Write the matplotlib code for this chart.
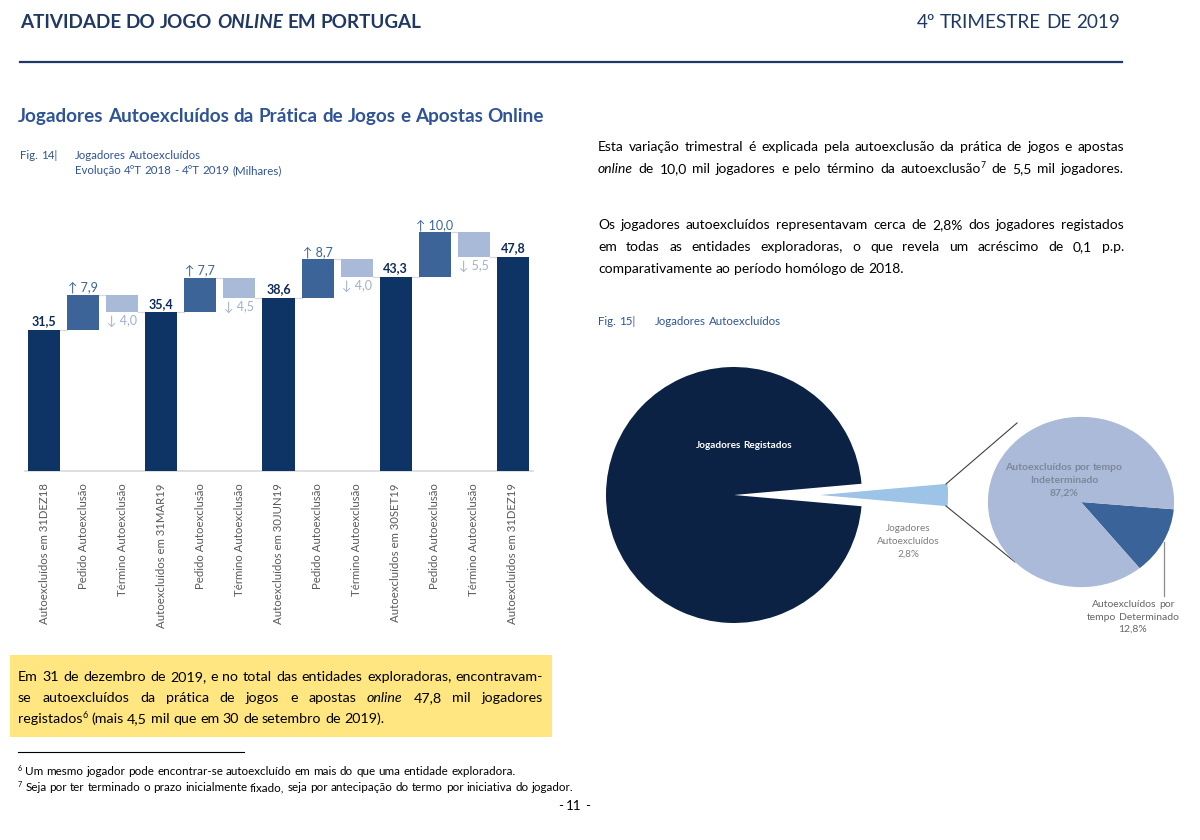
import re
import matplotlib
matplotlib.use('Agg')
import matplotlib.pyplot as plt
from matplotlib.patches import Rectangle
from matplotlib.lines import Line2D

plt.rcParams['font.family'] = ['Lato', 'DejaVu Sans']

# dados do gráfico em cascata (milhares)
categorias = ['Autoexcluídos em 31DEZ18', 'Pedido Autoexclusão', 'Término Autoexclusão',
              'Autoexcluídos em 31MAR19', 'Pedido Autoexclusão', 'Término Autoexclusão',
              'Autoexcluídos em 30JUN19', 'Pedido Autoexclusão', 'Término Autoexclusão',
              'Autoexcluídos em 30SET19', 'Pedido Autoexclusão', 'Término Autoexclusão',
              'Autoexcluídos em 31DEZ19']
valores = [31.5, 7.9, -4.0, 35.4, 7.7, -4.5, 38.6, 8.7, -4.0, 43.3, 10.0, -5.5, 47.8]
tipos = ['total', 'pedido', 'termino'] * 4 + ['total']

# dados dos gráficos circulares (%)
pie_labels = ['Jogadores Autoexcluídos', 'Jogadores Registados']
pie_valores = [2.8, 97.2]
detalhe_labels = ['Autoexcluídos por tempo Determinado', 'Autoexcluídos por tempo Indeterminado']
detalhe_valores = [12.8, 87.2]

AZUL_ESC = '#1f3864'
AZUL_MED = '#2f5496'
COR_TOTAL = '#0e3466'
COR_PEDIDO = '#3c6499'
COR_TERMINO = '#a9b9d8'

W, H = 1200, 840
fig = plt.figure(figsize=(12, 8.4), dpi=100)
rend = fig.canvas.get_renderer()


def px(x, y):
    return x / W, 1 - y / H


def medir(t):
    return t.get_window_extent(renderer=rend).width


def escreve(x0, y, texto, size, color='black', weight='normal', x1=None, ha='left'):
    """Escreve uma linha; *x* = itálico, ^n = expoente; com x1 a linha fica justificada."""
    grupos = []
    for palavra in texto.split(' '):
        partes = []
        for pedaco in re.findall(r'\*[^*]+\*|\^\w+|[^*^]+', palavra):
            kw = dict(fontsize=size, color=color, weight=weight)
            dy = 0
            if pedaco.startswith('*'):
                pedaco = pedaco[1:-1]
                kw['style'] = 'italic'
            elif pedaco.startswith('^'):
                pedaco = pedaco[1:]
                kw['fontsize'] = size * 0.62
                dy = size * 0.38 * 100 / 72
            t = fig.text(0, 0, pedaco, va='baseline', ha='left', **kw)
            partes.append((t, medir(t), dy))
        grupos.append(partes)
    larguras = [sum(p[1] for p in g) for g in grupos]
    a = fig.text(0, 0, 'a a', fontsize=size, weight=weight)
    b = fig.text(0, 0, 'aa', fontsize=size, weight=weight)
    espaco = medir(a) - medir(b)
    a.remove()
    b.remove()
    total = sum(larguras) + espaco * (len(grupos) - 1)
    if x1 is not None and len(grupos) > 1:
        espaco = (x1 - x0 - sum(larguras)) / (len(grupos) - 1)
    elif ha == 'right':
        x0 -= total
    elif ha == 'center':
        x0 -= total / 2
    x = x0
    for g, lw in zip(grupos, larguras):
        for t, w, dy in g:
            t.set_position(px(x, y - dy))
            x += w
        x += espaco


# cabeçalho
escreve(20, 28, 'ATIVIDADE DO JOGO *ONLINE* EM PORTUGAL', 13.6, AZUL_ESC, 'bold')
escreve(1120, 28, '4º TRIMESTRE DE 2019', 13.6, AZUL_ESC, ha='right')
fig.add_artist(Line2D([20 / W, 1122 / W], [1 - 62 / H] * 2, color=AZUL_ESC, lw=1.6))

escreve(18, 122, 'Jogadores Autoexcluídos da Prática de Jogos e Apostas Online', 13.6, AZUL_MED, 'bold')
escreve(20, 159, 'Fig. 14|', 8.3, AZUL_MED)
escreve(75, 159, 'Jogadores Autoexcluídos', 8.3, AZUL_MED)
escreve(75, 174, 'Evolução 4ºT 2018 - 4ºT 2019 (Milhares)', 8.3, AZUL_MED)

# ---- gráfico em cascata ----
ax = fig.add_axes([24.5 / W, 1 - 471 / H, 508 / W, 271 / H])
nivel = 0
bases, alturas, niveis = [], [], []
for v, t in zip(valores, tipos):
    if t == 'total':
        bases.append(0)
        alturas.append(v)
        nivel = v
    elif v > 0:
        bases.append(nivel)
        alturas.append(v)
        nivel += v
    else:
        bases.append(nivel + v)
        alturas.append(-v)
        nivel += v
    niveis.append(nivel)

cores = {'total': COR_TOTAL, 'pedido': COR_PEDIDO, 'termino': COR_TERMINO}
larg = 0.82
xs = list(range(len(valores)))
ax.bar(xs, alturas, bottom=bases, width=larg, color=[cores[t] for t in tipos], zorder=3)

for i in range(len(valores) - 1):
    ax.plot([i + larg / 2, i + 1 - larg / 2], [niveis[i], niveis[i]], color='#d9d9d9', lw=0.9, zorder=2)

for i, (v, t) in enumerate(zip(valores, tipos)):
    txt = f'{abs(v):.1f}'.replace('.', ',')
    if t == 'total':
        ax.annotate(txt, (i, v), xytext=(0, 2), textcoords='offset points', ha='center', va='bottom',
                    fontsize=9, weight='bold', color='#0e2a57')
    elif t == 'pedido':
        ax.annotate('↑ ' + txt, (i, bases[i] + alturas[i]), xytext=(0, 1), textcoords='offset points',
                    ha='center', va='bottom', fontsize=9, color=COR_PEDIDO)
    else:
        ax.annotate('↓ ' + txt, (i, bases[i]), xytext=(0, -2), textcoords='offset points',
                    ha='center', va='top', fontsize=9, color='#9fb0d0')

ax.set_xlim(-0.5, len(valores) - 0.5)
ax.set_ylim(0, 60.5)
ax.set_xticks(xs)
ax.set_xticklabels(categorias, rotation=90, fontsize=8.2, color='#595959')
ax.tick_params(axis='x', length=0, pad=9)
ax.set_yticks([])
for s in ['top', 'left', 'right']:
    ax.spines[s].set_visible(False)
ax.spines['bottom'].set_color('#d9d9d9')
ax.spines['bottom'].set_linewidth(1.2)

# ---- texto da direita ----
escreve(598, 151, 'Esta variação trimestral é explicada pela autoexclusão da prática de jogos e apostas', 10, x1=1124)
escreve(598, 173, '*online* de 10,0 mil jogadores e pelo término da autoexclusão^7 de 5,5 mil jogadores.', 10, x1=1124)
escreve(598, 229, 'Os jogadores autoexcluídos representavam cerca de 2,8% dos jogadores registados', 10, x1=1124)
escreve(598, 251, 'em todas as entidades exploradoras, o que revela um acréscimo de 0,1 p.p.', 10, x1=1124)
escreve(598, 273, 'comparativamente ao período homólogo de 2018.', 10)

escreve(598, 325, 'Fig. 15|', 8.3, AZUL_MED)
escreve(655, 325, 'Jogadores Autoexcluídos', 8.3, AZUL_MED)

# ---- circular principal (coordenadas em pixels) ----
axp = fig.add_axes([590 / W, 1 - 650 / H, 600 / W, 290 / H])
axp.pie(pie_valores, colors=['#9dc3e6', '#0b2245'], startangle=-pie_valores[0] * 3.6 / 2,
        explode=[86, 0], radius=128, center=(734, H - 495), wedgeprops=dict(linewidth=0))
axp.plot([946, 1017], [H - 484, H - 423], color='#404040', lw=0.8)
axp.plot([946, 1015], [H - 506, H - 562], color='#404040', lw=0.8)
axp.plot([1164, 1164], [H - 542, H - 596], color='#8c8c8c', lw=0.9)
axp.set_xlim(590, 1190)
axp.set_ylim(H - 650, H - 360)
axp.set_aspect('auto')
axp.axis('off')

# ---- circular de detalhe ----
axd = fig.add_axes([987 / W, 1 - 588 / H, 188 / W, 172 / H])
axd.pie(detalhe_valores, colors=['#3a6399', '#abbad8'], startangle=-51, wedgeprops=dict(linewidth=0))
axd.set_xlim(-1.01, 1.01)
axd.set_ylim(-1.01, 1.01)
axd.set_aspect('auto')
axd.axis('off')

escreve(744, 448, 'Jogadores Registados', 7.2, 'white', 'bold', ha='center')
for k, linha in enumerate(['Jogadores', 'Autoexcluídos', '2,8%']):
    escreve(908, 531 + 13 * k, linha, 7.2, '#7f7f7f', ha='center')
for k, linha in enumerate(['Autoexcluídos por tempo', 'Indeterminado', '87,2%']):
    escreve(1064, 470 + 13 * k, linha, 7.5, '#7d879b', 'bold', ha='center')
for k, linha in enumerate(['Autoexcluídos por', 'tempo Determinado', '12,8%']):
    escreve(1133, 607 + 12.5 * k, linha, 7.5, '#666666', ha='center')

# ---- caixa amarela ----
fig.add_artist(Rectangle(px(10, 737), 542 / W, 82 / H, color='#ffe680', lw=0))
escreve(18, 681, 'Em 31 de dezembro de 2019, e no total das entidades exploradoras, encontravam-', 10.3, x1=543)
escreve(18, 702, 'se autoexcluídos da prática de jogos e apostas *online* 47,8 mil jogadores', 10.3, x1=543)
escreve(18, 723, 'registados^6 (mais 4,5 mil que em 30 de setembro de 2019).', 10.3)

# ---- notas de rodapé ----
fig.add_artist(Line2D([18 / W, 244 / W], [1 - 752 / H] * 2, color='black', lw=0.8))
escreve(18, 775, '^6 Um mesmo jogador pode encontrar-se autoexcluído em mais do que uma entidade exploradora.', 8.4)
escreve(18, 791, '^7 Seja por ter terminado o prazo inicialmente fixado, seja por antecipação do termo por iniciativa do jogador.', 8.4)
escreve(574, 810, '- 11 -', 9.5, ha='center')

fig.savefig('out.png', dpi=100)
